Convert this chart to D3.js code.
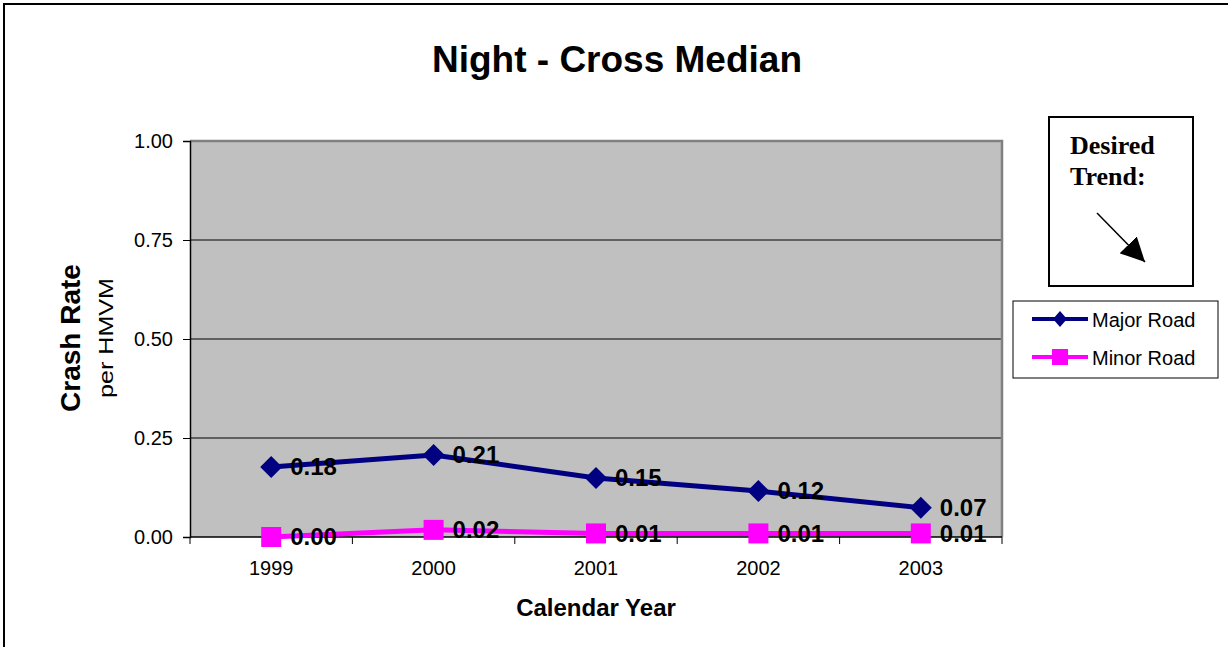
<!DOCTYPE html>
<html>
<head>
<meta charset="utf-8">
<script src="https://cdn.jsdelivr.net/npm/d3@7"></script>
<style>
  html, body { margin: 0; padding: 0; background: #fff; }
  svg { display: block; }
  svg text { font-family: "Liberation Sans", Arial, sans-serif; }
  svg text.serif { font-family: "Liberation Serif", "Times New Roman", serif; }
</style>
</head>
<body>
<svg id="chart" width="1228" height="647"></svg>
<script>
// Crash rate per HMVM, night-time cross-median crashes
const years = ["1999", "2000", "2001", "2002", "2003"];
const majorRoad = [0.177, 0.207, 0.149, 0.116, 0.074];
const minorRoad = [0.000, 0.018, 0.009, 0.009, 0.009];
const yTicks = [0, 0.25, 0.5, 0.75, 1.0];
const seriesNames = ["Major Road", "Minor Road"];

const svg = d3.select("#chart");
const fmt = d3.format(".2f");

// diamond marker path with given half-width / half-height
const diamond = (hw, hh) => `M0,${-hh}L${hw},0L0,${hh}L${-hw},0Z`;

// outer frame
svg.append("rect")
  .attr("x", 4).attr("y", 4).attr("width", 1240).attr("height", 660)
  .attr("fill", "#fff").attr("stroke", "#000").attr("stroke-width", 2);

const plot = { left: 190, right: 1002, top: 141, bottom: 537 };

const x = d3.scaleBand().domain(years).range([plot.left, plot.right]).padding(0);
const y = d3.scaleLinear().domain([0, 1]).range([plot.bottom, plot.top]);
const cx = d => x(d) + x.bandwidth() / 2;

// plot area background
svg.append("rect")
  .attr("x", plot.left).attr("y", plot.top)
  .attr("width", plot.right - plot.left).attr("height", plot.bottom - plot.top)
  .attr("fill", "#c0c0c0");

// gridlines
svg.append("g").selectAll("line")
  .data(yTicks.filter(t => t > 0 && t < 1))
  .join("line")
  .attr("x1", plot.left).attr("x2", plot.right)
  .attr("y1", d => y(d)).attr("y2", d => y(d))
  .attr("stroke", "#000").attr("stroke-width", 1);

// plot area border (top and right)
svg.append("path")
  .attr("d", `M${plot.left},${plot.top}H${plot.right}V${plot.bottom}`)
  .attr("fill", "none").attr("stroke", "#808080").attr("stroke-width", 2.5);

// y axis
const yAxis = svg.append("g")
  .attr("transform", `translate(${plot.left},0)`)
  .call(d3.axisLeft(y).tickValues(yTicks).tickFormat(fmt).tickSize(7).tickPadding(10));
yAxis.select(".domain").attr("stroke", "#000").attr("stroke-width", 1.5);
yAxis.selectAll(".tick line").attr("stroke", "#000");
yAxis.selectAll("text").attr("font-size", 20).attr("fill", "#000");

// x axis: labels centered in categories, ticks at category boundaries
const xAxis = svg.append("g")
  .attr("transform", `translate(0,${plot.bottom})`)
  .call(d3.axisBottom(x).tickSize(0).tickPadding(0));
xAxis.select(".domain").remove();
xAxis.selectAll("text").attr("y", 38).attr("dy", 0)
  .attr("font-size", 20).attr("fill", "#000");
svg.append("line")
  .attr("x1", plot.left).attr("x2", plot.right)
  .attr("y1", plot.bottom).attr("y2", plot.bottom)
  .attr("stroke", "#000").attr("stroke-width", 1.5);
svg.append("g").selectAll("line")
  .data(years.concat(["end"]))
  .join("line")
  .attr("x1", (d, i) => i < years.length ? x(d) : plot.right)
  .attr("x2", (d, i) => i < years.length ? x(d) : plot.right)
  .attr("y1", plot.bottom).attr("y2", plot.bottom + 7)
  .attr("stroke", "#000").attr("stroke-width", 1);

// series
const lineGen = d3.line().x(d => cx(d.year)).y(d => y(d.value));
const majorData = years.map((yr, i) => ({ year: yr, value: majorRoad[i] }));
const minorData = years.map((yr, i) => ({ year: yr, value: minorRoad[i] }));

svg.append("path").datum(majorData)
  .attr("d", lineGen).attr("fill", "none")
  .attr("stroke", "#000080").attr("stroke-width", 5);
svg.append("g").selectAll("path")
  .data(majorData).join("path")
  .attr("d", diamond(11, 11))
  .attr("transform", d => `translate(${cx(d.year)},${y(d.value)})`)
  .attr("fill", "#000080");

svg.append("path").datum(minorData)
  .attr("d", lineGen).attr("fill", "none")
  .attr("stroke", "#ff00ff").attr("stroke-width", 5);
svg.append("g").selectAll("rect")
  .data(minorData).join("rect")
  .attr("x", d => cx(d.year) - 10).attr("y", d => y(d.value) - 10)
  .attr("width", 20).attr("height", 20)
  .attr("fill", "#ff00ff");

// data labels
[majorData, minorData].forEach(data => {
  svg.append("g").selectAll("text")
    .data(data).join("text")
    .attr("x", d => cx(d.year) + 19)
    .attr("y", d => y(d.value))
    .attr("dy", "0.35em")
    .attr("font-size", 24).attr("font-weight", "bold").attr("fill", "#000")
    .text(d => fmt(d.value));
});

// titles
svg.append("text")
  .attr("x", 617).attr("y", 72).attr("text-anchor", "middle")
  .attr("font-size", 37).attr("font-weight", "bold")
  .text("Night - Cross Median");

svg.append("text")
  .attr("x", (plot.left + plot.right) / 2).attr("y", 616).attr("text-anchor", "middle")
  .attr("font-size", 24).attr("font-weight", "bold")
  .text("Calendar Year");

svg.append("text")
  .attr("transform", "translate(80,338) rotate(-90)")
  .attr("text-anchor", "middle")
  .attr("font-size", 28).attr("font-weight", "bold")
  .text("Crash Rate");
svg.append("text")
  .attr("transform", "translate(113,338) rotate(-90)")
  .attr("text-anchor", "middle")
  .attr("font-size", 20)
  .attr("textLength", 120).attr("lengthAdjust", "spacingAndGlyphs")
  .text("per HMVM");

// desired trend box
svg.append("rect")
  .attr("x", 1049).attr("y", 117).attr("width", 144).attr("height", 169)
  .attr("fill", "#fff").attr("stroke", "#000").attr("stroke-width", 2);
const trend = svg.append("text")
  .attr("class", "serif")
  .attr("font-size", 26).attr("font-weight", "bold");
trend.append("tspan").attr("x", 1070).attr("y", 154).text("Desired");
trend.append("tspan").attr("x", 1070).attr("y", 185).text("Trend:");

svg.append("defs").append("marker")
  .attr("id", "arrowhead")
  .attr("viewBox", "0 0 10 10").attr("refX", 10).attr("refY", 5)
  .attr("markerWidth", 24).attr("markerHeight", 24)
  .attr("markerUnits", "userSpaceOnUse")
  .attr("orient", "auto")
  .append("path").attr("d", "M0,0L10,5L0,10Z").attr("fill", "#000");
svg.append("line")
  .attr("x1", 1097).attr("y1", 213).attr("x2", 1145).attr("y2", 262)
  .attr("stroke", "#000").attr("stroke-width", 1.5)
  .attr("marker-end", "url(#arrowhead)");

// legend
const legend = svg.append("g");
legend.append("rect")
  .attr("x", 1013).attr("y", 301).attr("width", 205).attr("height", 77)
  .attr("fill", "#fff").attr("stroke", "#000").attr("stroke-width", 1);
const legendColors = ["#000080", "#ff00ff"];
seriesNames.forEach((name, i) => {
  const ly = 319 + i * 38;
  legend.append("line")
    .attr("x1", 1032).attr("x2", 1088).attr("y1", ly).attr("y2", ly)
    .attr("stroke", legendColors[i]).attr("stroke-width", 4);
  if (i === 0) {
    legend.append("path")
      .attr("d", diamond(7, 8))
      .attr("transform", `translate(1060,${ly})`)
      .attr("fill", legendColors[i]);
  } else {
    legend.append("rect")
      .attr("x", 1060 - 8).attr("y", ly - 8).attr("width", 16).attr("height", 16)
      .attr("fill", legendColors[i]);
  }
  legend.append("text")
    .attr("x", 1092).attr("y", ly + 8)
    .attr("font-size", 20)
    .text(name);
});
</script>
</body>
</html>
